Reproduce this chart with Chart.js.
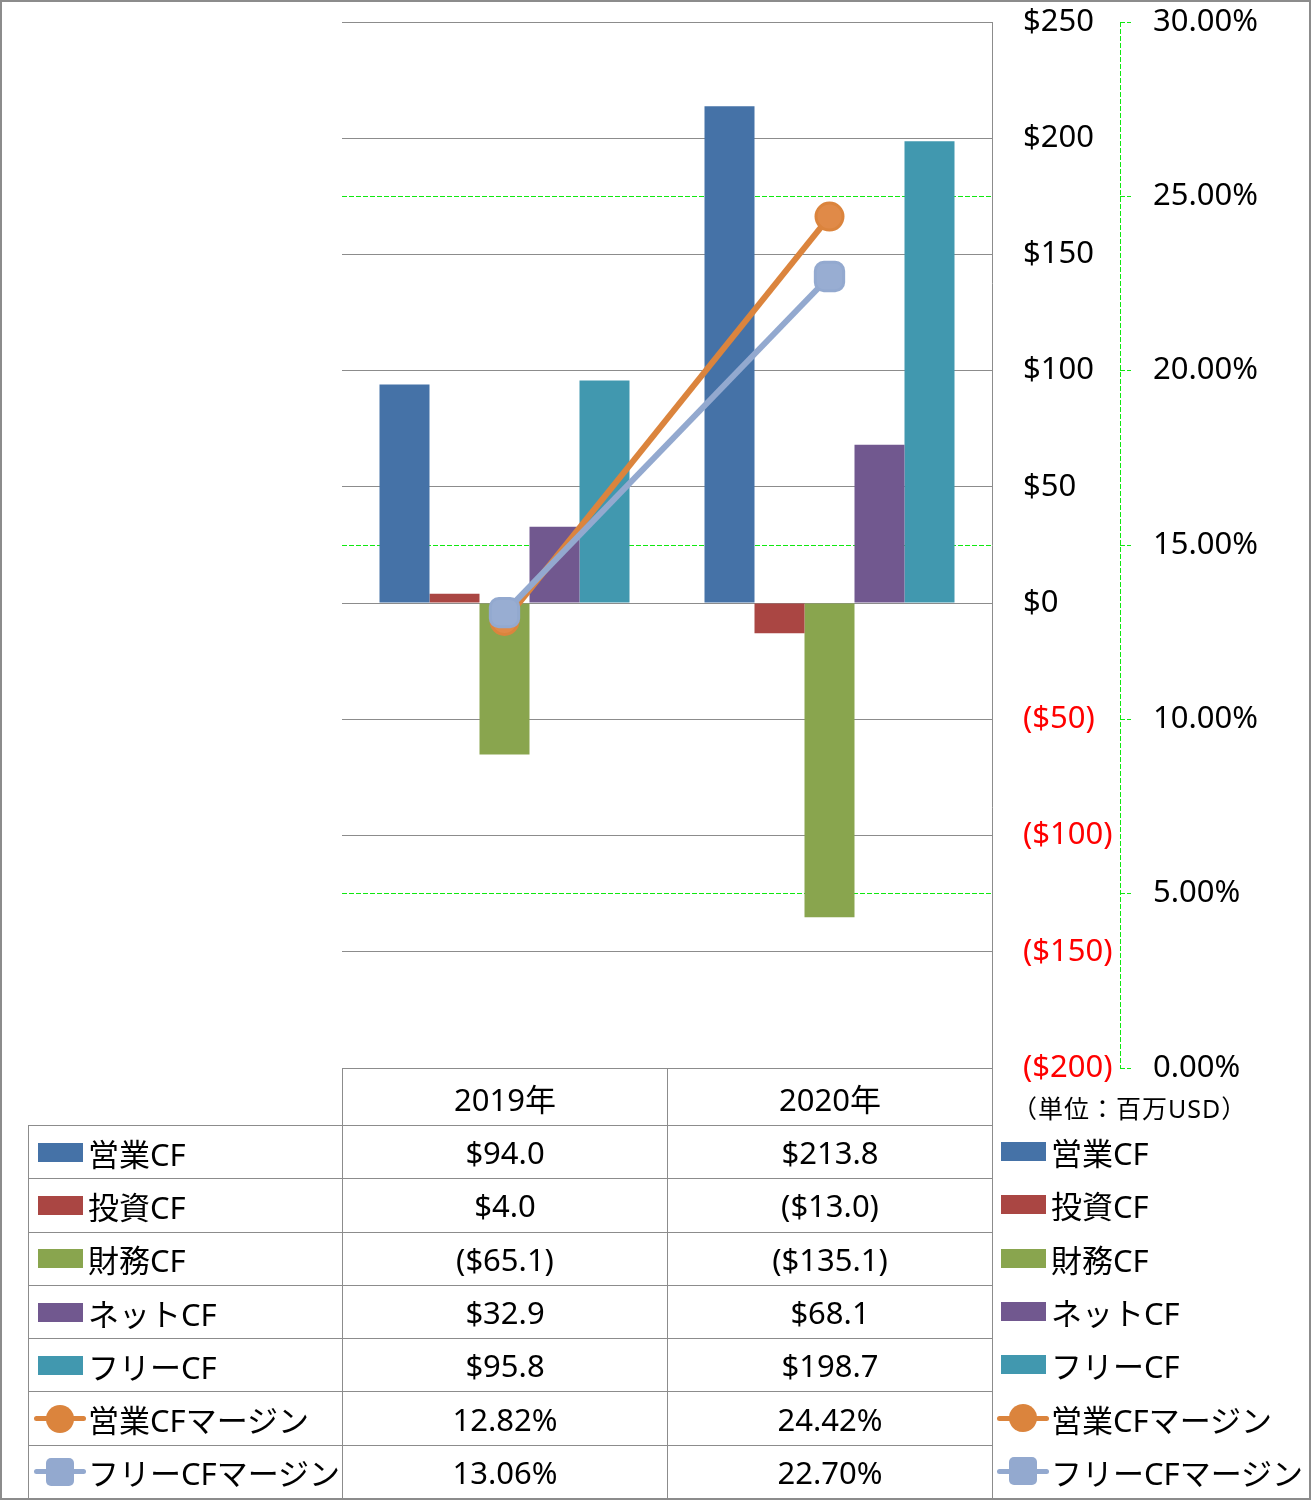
<!DOCTYPE html>
<html>
<head>
<meta charset="utf-8">
<script src="https://cdn.jsdelivr.net/npm/chart.js@4/dist/chart.umd.min.js"></script>
<style>
  body { margin: 0; background: #fff; }
  #page { position: relative; width: 1311px; height: 1500px; overflow: hidden;
    font-family: 'Noto Sans', 'Noto Sans CJK JP', sans-serif; }
  #cf { position: absolute; left: 0; top: 0; }
  #frame { position: absolute; left: 0; top: 0; width: 1311px; height: 1500px;
    box-sizing: border-box; border: 2px solid #8c8c8c; pointer-events: none; }
  #tbl { position: absolute; left: 28px; top: 1068px; border-collapse: collapse;
    table-layout: fixed; width: 964px; font-size: 31px; }
  #tbl td { border: 1px solid #8c8c8c; padding: 0; text-align: center; white-space: nowrap; }
  #tbl td.blank { border-top: none; border-left: none; }
  .lab { display: flex; align-items: center; text-align: left; white-space: nowrap; }
  .key { position: relative; width: 52px; height: 30px; margin: 0 2px 0 5px; flex: none; }
  .key .box { position: absolute; left: 3.5px; top: 5.5px; width: 45px; height: 19px; }
  .key .ln { position: absolute; left: 0; top: 12.5px; width: 52px; height: 5px; border-radius: 3px; }
  .key .dot { position: absolute; left: 12px; top: 1px; width: 28px; height: 28px; border-radius: 50%; }
  .key .sq { position: absolute; left: 12px; top: 1px; width: 28px; height: 28px; border-radius: 5px; }
  #rlegend { position: absolute; left: 992px; top: 1125px; width: 319px; height: 373px; font-size: 31px; }
  #rlegend .lab { position: absolute; left: 0; width: 319px; height: 53px; }
  #unit { position: absolute; left: 1012px; top: 1089px; font-size: 25px; letter-spacing: 1px; white-space: nowrap; }
</style>
</head>
<body>
<div id="page">
  <canvas id="cf" width="1311" height="1500"></canvas>
  <table id="tbl"></table>
  <div id="unit">（単位：百万USD）</div>
  <div id="rlegend"></div>
  <div id="frame"></div>
</div>
<script>
const years = ["2019年", "2020年"];
const opCF = [94.0, 213.8];
const invCF = [4.0, -13.0];
const finCF = [-65.1, -135.1];
const netCF = [32.9, 68.1];
const freeCF = [95.8, 198.7];
const opMargin = [12.82, 24.42];
const freeMargin = [13.06, 22.70];

const money = (v) => (v < 0 ? "($" + Math.abs(v).toFixed(1) + ")" : "$" + v.toFixed(1));
const pct = (v) => v.toFixed(2) + "%";

// series list used for chart, table and legend
const series = [
  { name: "営業CF", data: opCF, color: "#4572A7", kind: "bar" },
  { name: "投資CF", data: invCF, color: "#AA4643", kind: "bar" },
  { name: "財務CF", data: finCF, color: "#89A54E", kind: "bar" },
  { name: "ネットCF", data: netCF, color: "#71588F", kind: "bar" },
  { name: "フリーCF", data: freeCF, color: "#4198AF", kind: "bar" },
  { name: "営業CFマージン", data: opMargin, color: "#DB843D", fill: "#E08A48", kind: "dot" },
  { name: "フリーCFマージン", data: freeMargin, color: "#93A9CF", fill: "#98ADD2", kind: "sq" },
];

const green = "#10e810";

// dashed secondary axis line
const axisLine = {
  id: "axisLine",
  afterDraw(chart) {
    const s = chart.scales.y1;
    const c = chart.ctx;
    c.save();
    c.strokeStyle = green;
    c.lineWidth = 1;
    c.setLineDash([5, 2]);
    c.beginPath();
    c.moveTo(s.left + 0.5, s.top);
    c.lineTo(s.left + 0.5, s.bottom);
    c.stroke();
    c.restore();
  },
};

Chart.defaults.font.family = "'Noto Sans', 'Noto Sans CJK JP', sans-serif";
Chart.defaults.font.size = 31;
Chart.defaults.color = "#000";

const datasets = series.map((s) => {
  if (s.kind === "bar") {
    return {
      type: "bar",
      label: s.name,
      data: s.data,
      backgroundColor: s.color,
      yAxisID: "y",
      order: 3,
      barPercentage: 1,
      categoryPercentage: 250 / 325,
    };
  }
  return {
    type: "line",
    label: s.name,
    data: s.data,
    borderColor: s.color,
    backgroundColor: s.color,
    borderWidth: 6,
    pointStyle: s.kind === "dot" ? "circle" : "rectRounded",
    pointRadius: s.kind === "dot" ? 13.5 : 16.5,
    pointBackgroundColor: s.fill,
    pointBorderColor: s.color,
    pointBorderWidth: 3,
    yAxisID: "y1",
    order: s.kind === "dot" ? 2 : 1,
  };
});

new Chart(document.getElementById("cf"), {
  type: "bar",
  data: { labels: years, datasets: datasets },
  options: {
    responsive: false,
    animation: false,
    layout: { padding: { left: 342, top: 22, bottom: 432, right: 41 } },
    plugins: { legend: { display: false }, tooltip: { enabled: false } },
    scales: {
      x: { display: false, offset: true },
      y: {
        position: "right",
        min: -200,
        max: 250,
        afterFit: (s) => { s.width = 128; },
        ticks: {
          stepSize: 50,
          padding: 0,
          callback: (v) => (v < 0 ? "($" + Math.abs(v) + ")" : "$" + v),
          color: (ctx) => (ctx.tick && ctx.tick.value < 0 ? "#ff0000" : "#000"),
        },
        grid: { z: -1, color: "#8c8c8c", lineWidth: 1, drawTicks: true, tickLength: 31, tickColor: "rgba(0,0,0,0)" },
        border: { display: true, color: "#8c8c8c", width: 1 },
      },
      y1: {
        position: "right",
        min: 0,
        max: 30,
        afterFit: (s) => { s.width = 150; },
        ticks: { stepSize: 5, padding: 3, callback: (v) => v.toFixed(2) + "%" },
        grid: {
          z: -2,
          color: green,
          lineWidth: 1,
          drawTicks: true,
          tickLength: 30,
          tickColor: green,
          tickBorderDash: [5, 2, 4, 100],
        },
        border: { display: false, dash: [5, 2] },
      },
    },
  },
  plugins: [axisLine],
});

// legend key html
function keyHtml(s) {
  if (s.kind === "bar") return '<div class="key"><div class="box" style="background:' + s.color + '"></div></div>';
  const mark = s.kind === "dot" ? "dot" : "sq";
  return '<div class="key"><div class="ln" style="background:' + s.color + '"></div>' +
    '<div class="' + mark + '" style="background:' + s.color + '"></div></div>';
}

// data table
const tbl = document.getElementById("tbl");
let html = '<colgroup><col style="width:314px"><col style="width:325px"><col style="width:325px"></colgroup>';
html += '<tr style="height:57px"><td class="blank"></td>' + years.map((y) => "<td>" + y + "</td>").join("") + "</tr>";
series.forEach((s) => {
  const fmt = s.kind === "bar" ? money : pct;
  html += '<tr style="height:53.3px"><td><div class="lab">' + keyHtml(s) + "<span>" + s.name + "</span></div></td>" +
    s.data.map((v) => "<td>" + fmt(v) + "</td>").join("") + "</tr>";
});
tbl.innerHTML = html;

// right-hand legend
const rl = document.getElementById("rlegend");
rl.innerHTML = series.map((s, i) =>
  '<div class="lab" style="top:' + (i * 53.3).toFixed(1) + 'px">' + keyHtml(s) + "<span>" + s.name + "</span></div>"
).join("");
</script>
</body>
</html>
